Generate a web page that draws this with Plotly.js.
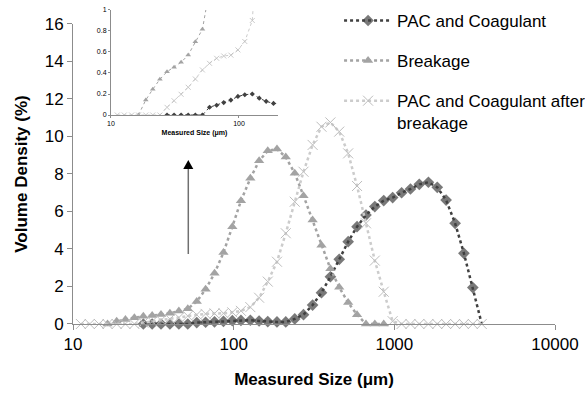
<!DOCTYPE html>
<html>
<head>
<meta charset="utf-8">
<script src="https://cdn.plot.ly/plotly-3.0.1.min.js"></script>
<style>
  html, body { margin: 0; padding: 0; background: #ffffff; }
  #chart { width: 585px; height: 393px; }
</style>
</head>
<body>
<div id="chart"></div>
<script>
// Particle size classes (μm)
const sizes = [11.2, 12.7, 14.5, 16.4, 18.7, 21.2, 24.1, 27.4, 31.1, 35.3,
  40.1, 45.6, 51.8, 58.9, 66.9, 76.0, 86.4, 98.1, 111, 127,
  144, 163, 186, 211, 240, 272, 310, 352, 400, 454,
  516, 586, 666, 756, 859, 976, 1110, 1260, 1430, 1630,
  1850, 2100, 2390, 2710, 3080, 3500];

// Volume density (%) per size class
const pacCoagulant = [null, null, null, null, null, null, null, 0, 0, 0,
  0, 0, 0, 0.074, 0.093, 0.118, 0.142, 0.177, 0.193, 0.20,
  0.16, 0.13, 0.11, 0.11, 0.27, 0.50, 1.01, 1.67, 2.52, 3.45,
  4.39, 5.19, 5.81, 6.26, 6.58, 6.74, 7.00, 7.20, 7.45, 7.56,
  7.29, 6.61, 5.37, 3.77, 1.94, 0];

const breakage = [null, null, null, 0, 0.143, 0.245, 0.34, 0.412, 0.454, 0.502,
  0.571, 0.698, 0.816, 1.20, 1.85, 2.70, 3.81, 5.19, 6.57, 7.77,
  8.70, 9.24, 9.33, 8.90, 8.04, 6.84, 5.55, 4.20, 2.95, 1.96,
  1.14, 0.50, 0, 0, 0, null, null, null, null, null,
  null, null, null, null, null, null];

const afterBreakage = [0, 0, 0, 0, 0, 0, 0, 0.073, 0.136, 0.197,
  0.264, 0.343, 0.429, 0.492, 0.54, 0.562, 0.57, 0.62, 0.70, 0.90,
  1.40, 2.26, 3.32, 4.84, 6.52, 8.12, 9.55, 10.52, 10.75, 10.26,
  9.10, 7.36, 5.37, 3.38, 1.72, 0.15, 0, 0, 0, 0,
  0, 0, 0, 0, 0, 0];

const seriesNames = ['PAC and Coagulant', 'Breakage', 'PAC and Coagulant after<br>breakage'];
const xTickVals = [10, 100, 1000, 10000];
const xTickText = ['10', '100', '1000', '10000'];
const yTickVals = [0, 2, 4, 6, 8, 10, 12, 14, 16];
const insetXTickVals = [10, 100];
const insetXTickText = ['10', '100'];
const insetYTickVals = [0, 0.2, 0.4, 0.6, 0.8, 1];
const insetYTickText = ['0', '0.2', '0.4', '0.6', '0.8', '1'];

const FONT = 'Arial, "Liberation Sans", sans-serif';
const C_PAC = '#404040';
const C_BRK = '#a3a3a3';
const C_AFT = '#bdbdbd';
const C_AFT_LINE = '#cccccc';

// last PAC point closes the curve on the baseline without a marker
const pacSizes = pacCoagulant.map((v, i) => (i === pacCoagulant.length - 1 ? 0 : 9));

function mainTrace(y, name, group, color, lineColor, symbol, size, lineWidth) {
  return {
    x: sizes, y: y, name: name, legendgroup: group,
    type: 'scatter', mode: 'lines+markers', cliponaxis: false,
    connectgaps: false,
    line: { color: lineColor, width: lineWidth, dash: 'dot' },
    marker: { symbol: symbol, size: size, color: color,
      line: { color: color, width: symbol.indexOf('x-thin') === 0 ? 1 : 0 } },
    xaxis: 'x', yaxis: 'y'
  };
}

function insetTrace(y, color, lineColor, symbol, size) {
  return {
    x: sizes, y: y, showlegend: false,
    type: 'scatter', mode: 'lines+markers', cliponaxis: true,
    line: { color: lineColor, width: 1, dash: 'dot' },
    marker: { symbol: symbol, size: size, color: color,
      line: { color: color, width: symbol.indexOf('x-thin') === 0 ? 0.8 : 0 } },
    xaxis: 'x2', yaxis: 'y2', hoverinfo: 'skip'
  };
}

const traces = [
  mainTrace(pacCoagulant, seriesNames[0], 'g1', C_PAC, C_PAC, 'diamond', pacSizes, 2.5),
  mainTrace(breakage, seriesNames[1], 'g2', C_BRK, C_BRK, 'triangle-up', 9, 2.5),
  mainTrace(afterBreakage, seriesNames[2], 'g3', C_AFT, C_AFT_LINE, 'x-thin-open', 10, 2.5),
  insetTrace(pacCoagulant, C_PAC, C_PAC, 'diamond', 4),
  insetTrace(breakage, C_BRK, C_BRK, 'triangle-up', 5),
  insetTrace(afterBreakage, C_AFT, C_AFT_LINE, 'x-thin-open', 5)
];

const axisCommon = {
  showgrid: false, zeroline: false, showline: true,
  linecolor: '#8c8c8c', linewidth: 1,
  ticks: 'outside', tickcolor: '#8c8c8c', tickwidth: 1
};

const layout = {
  width: 585, height: 393,
  margin: { l: 73, r: 30, t: 8, b: 69, autoexpand: false },
  paper_bgcolor: '#ffffff', plot_bgcolor: 'rgba(0,0,0,0)',
  font: { family: FONT, color: '#000000' },
  showlegend: true,
  legend: {
    x: 0.552, xanchor: 'left', y: 1.016, yanchor: 'top',
    bgcolor: 'rgba(0,0,0,0)', borderwidth: 0,
    font: { family: FONT, size: 17, color: '#000000' },
    traceorder: 'grouped', tracegroupgap: 15, valign: 'top',
    itemwidth: 48
  },
  xaxis: Object.assign({}, axisCommon, {
    type: 'log', range: [1, 4], domain: [0, 1], anchor: 'y',
    tickvals: xTickVals, ticktext: xTickText, ticklen: 5,
    tickfont: { family: FONT, size: 17, color: '#000000' },
    title: { text: '<b>Measured Size (μm)</b>', font: { family: FONT, size: 17, color: '#000000' }, standoff: 19 }
  }),
  yaxis: Object.assign({}, axisCommon, {
    range: [0, 16], domain: [0, 0.9494], anchor: 'x',
    tickvals: yTickVals, ticklen: 5,
    tickfont: { family: FONT, size: 17, color: '#000000' },
    title: { text: '<b>Volume Density (%)</b>', font: { family: FONT, size: 17, color: '#000000' }, standoff: 12 }
  }),
  xaxis2: Object.assign({}, axisCommon, {
    type: 'log', range: [1, 2.3047], domain: [0.0788, 0.4253], anchor: 'y2',
    tickvals: insetXTickVals, ticktext: insetXTickText, ticklen: 2,
    tickfont: { family: FONT, size: 7, color: '#000000' },
    title: { text: '<b>Measured Size (μm)</b>', font: { family: FONT, size: 7, color: '#000000' }, standoff: 3 }
  }),
  yaxis2: Object.assign({}, axisCommon, {
    range: [0, 1], domain: [0.6614, 0.9937], anchor: 'x2',
    tickvals: insetYTickVals, ticktext: insetYTickText, ticklen: 2,
    tickfont: { family: FONT, size: 7, color: '#000000' }
  }),
  shapes: [
    // arrow shaft
    { type: 'line', xref: 'paper', yref: 'paper',
      x0: 0.2392, x1: 0.2392, y0: 0.2215, y1: 0.4905,
      line: { color: '#707070', width: 1.5 } },
    // arrow head
    { type: 'path', xref: 'paper', yref: 'paper',
      path: 'M 0.2288 0.4905 L 0.2496 0.4905 L 0.2392 0.5190 Z',
      fillcolor: '#000000', line: { color: '#000000', width: 0 } }
  ]
};

Plotly.newPlot('chart', traces, layout, { displayModeBar: false, staticPlot: true });
</script>
</body>
</html>
